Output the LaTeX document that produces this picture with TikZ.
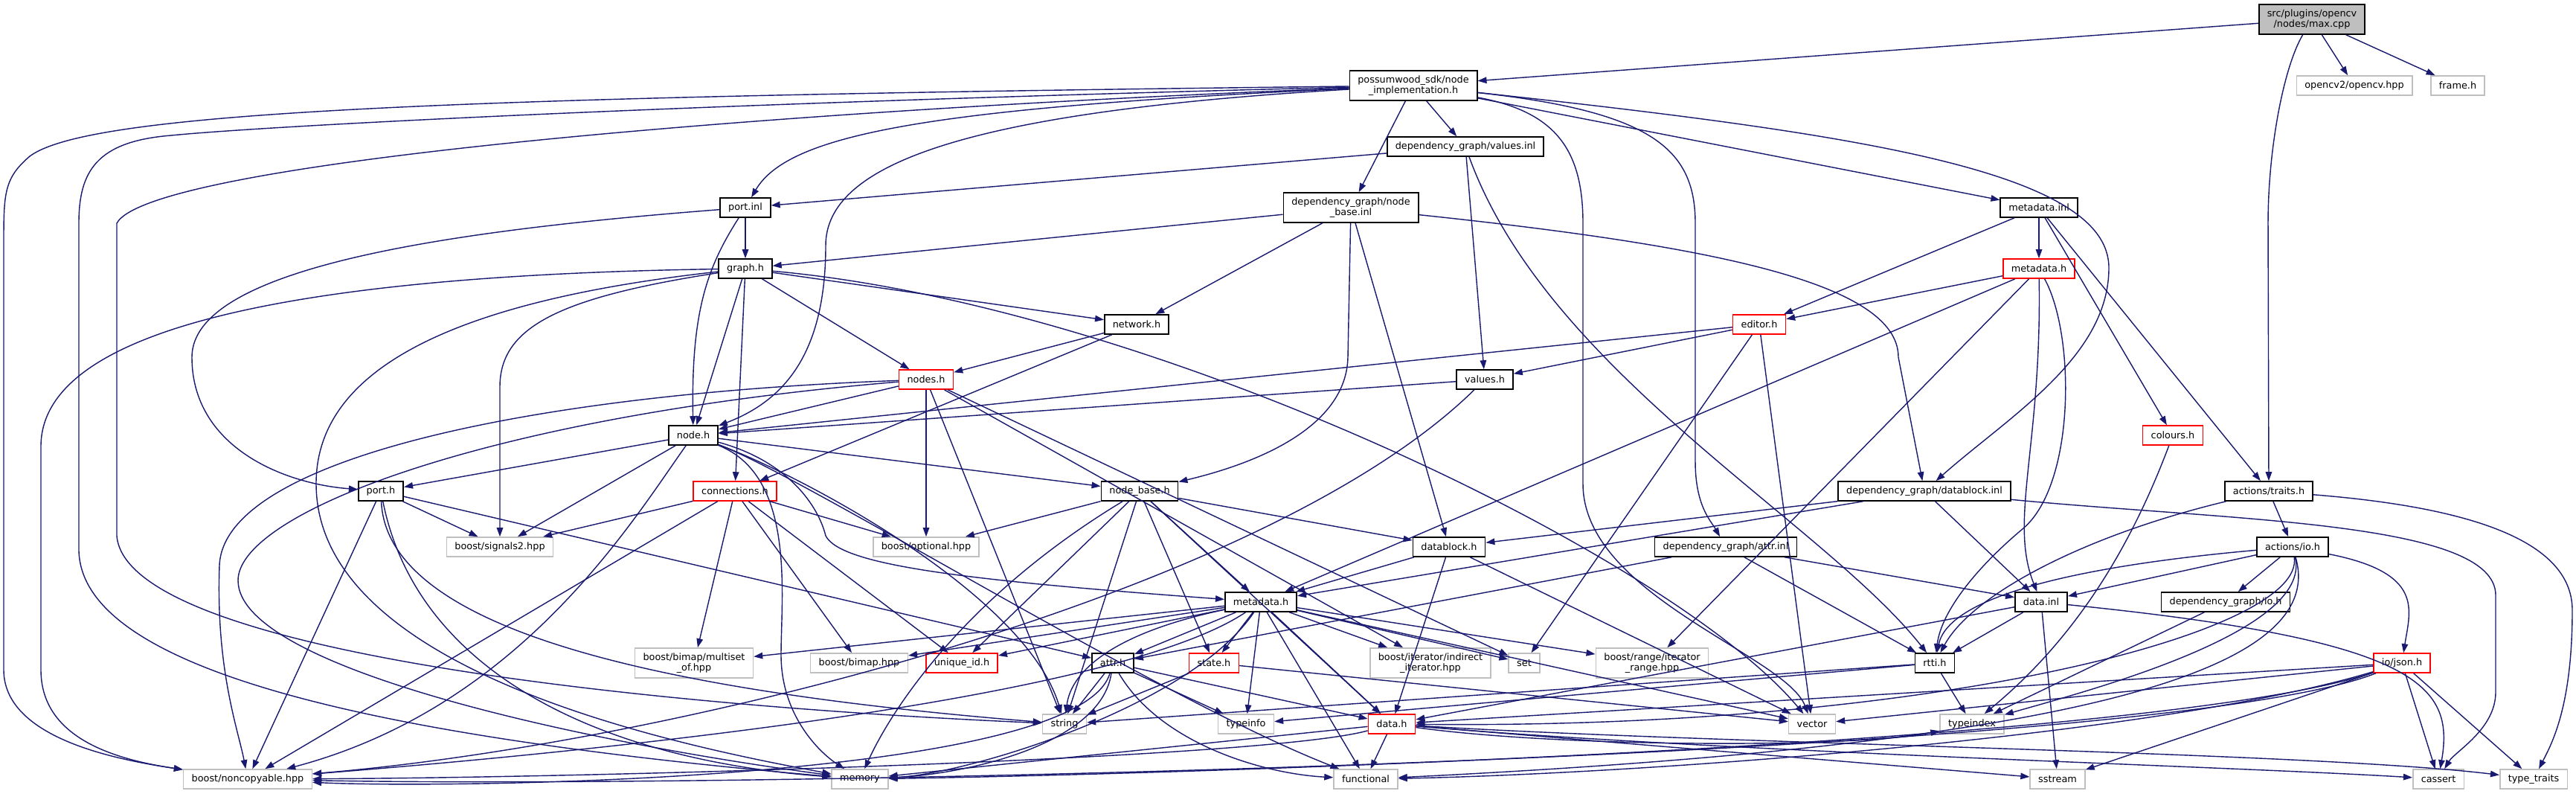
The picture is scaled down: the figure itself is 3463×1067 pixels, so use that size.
\documentclass[tikz,border=0pt]{standalone}
\usepackage{fontspec}
\setmainfont{DejaVu Sans}
\usetikzlibrary{arrows.meta}
\definecolor{edgeblue}{HTML}{191970}
\definecolor{boxgray}{HTML}{BFBFBF}
\definecolor{boxred}{HTML}{FF0000}

\begin{document}
\begin{tikzpicture}[x=0.01cm, y=-0.01cm,
    box/.style={draw, rectangle, align=center, fill=white, inner xsep=0.11cm, inner ysep=0.06cm,
        minimum height=0.26cm, line width=0.45pt, font=\fontsize{3.65pt}{4.1pt}\selectfont},
    doc/.style={box, draw=black},
    trunc/.style={box, draw=boxred},
    ext/.style={box, draw=boxgray},
    root/.style={box, draw=black, fill=boxgray},
    two/.style={minimum height=0.40cm},
    dep/.style={-{Triangle[length=0.12cm, width=0.085cm]}, draw=edgeblue, line width=0.4pt}]
            \fill[white] (0,0) rectangle (3463,1067);
            \useasboundingbox (0,0) rectangle (3463,1067);

            % Files of the project
            \node[root, two] (maxcpp) at (3108,26) {src/plugins/opencv\\/nodes/max.cpp};
            \node[ext] (opencv) at (3165,115) {opencv2/opencv.hpp};
            \node[ext] (frame) at (3304,115) {frame.h};
            \node[doc, two] (nimpl) at (1900,115) {possumwood\_sdk/node\\\_implementation.h};
            \node[doc] (valinl) at (1970,197) {dependency\_graph/values.inl};
            \node[doc, two] (nbinl) at (1816,279) {dependency\_graph/node\\\_base.inl};
            \node[doc] (portinl) at (1002,279) {port.inl};
            \node[doc] (mdinl) at (2741,279) {metadata.inl};
            \node[doc] (graph) at (1002,361) {graph.h};
            \node[trunc] (mdh) at (2741,361) {metadata.h};
            \node[trunc] (editor) at (2365,436) {editor.h};
            \node[doc] (network) at (1528,436) {network.h};
            \node[trunc] (nodes) at (1245,510) {nodes.h};
            \node[doc] (valh) at (1996,510) {values.h};
            \node[trunc] (colours) at (2921,585) {colours.h};
            \node[doc] (nodeh) at (932,585) {node.h};
            \node[doc] (porth) at (512,660) {port.h};
            \node[trunc] (conn) at (988,660) {connections.h};
            \node[doc] (nbh) at (1532,660) {node\_base.h};
            \node[doc] (dbinl) at (2587,660) {dependency\_graph/datablock.inl};
            \node[doc] (traits) at (3050,660) {actions/traits.h};
            \node[ext] (sig2) at (672,735) {boost/signals2.hpp};
            \node[ext] (opt) at (1245,735) {boost/optional.hpp};
            \node[doc] (dbh) at (1948,735) {datablock.h};
            \node[doc] (attrinl) at (2320,735) {dependency\_graph/attr.inl};
            \node[doc] (ioh) at (3082,735) {actions/io.h};
            \node[doc] (md) at (1695,809) {metadata.h};
            \node[doc] (datainl) at (2744,809) {data.inl};
            \node[doc] (dgio) at (2992,809) {dependency\_graph/io.h};
            \node[ext, two] (multiset) at (933,891) {boost/bimap/multiset\\\_of.hpp};
            \node[ext] (bimap) at (1155,891) {boost/bimap.hpp};
            \node[trunc] (uid) at (1293,891) {unique\_id.h};
            \node[doc] (attrh) at (1496,891) {attr.h};
            \node[trunc] (state) at (1632,891) {state.h};
            \node[ext, two] (indir) at (1923,891) {boost/iterator/indirect\\\_iterator.hpp};
            \node[ext] (set) at (2049,891) {set};
            \node[ext, two] (range) at (2221,891) {boost/range/iterator\\\_range.hpp};
            \node[doc] (rtti) at (2601,891) {rtti.h};
            \node[trunc] (json) at (3229,891) {io/json.h};
            \node[ext] (str) at (1431,973) {string};
            \node[ext] (tinfo) at (1675,973) {typeinfo};
            \node[trunc] (datah) at (1871,973) {data.h};
            \node[ext] (vec) at (2436,973) {vector};
            \node[ext] (tindex) at (2651,973) {typeindex};
            \node[ext] (noncp) at (333,1047) {boost/noncopyable.hpp};
            \node[ext] (mem) at (1156,1047) {memory};
            \node[ext] (func) at (1836,1047) {functional};
            \node[ext] (sstr) at (2766,1047) {sstream};
            \node[ext] (cassert) at (3278,1047) {cassert};
            \node[ext] (ttraits) at (3406,1047) {type\_traits};

            % max.cpp
            \draw[dep] (maxcpp) -- (nimpl);
            \draw[dep] (maxcpp) -- (opencv);
            \draw[dep] (maxcpp) -- (frame);
            \draw[dep] (maxcpp) .. controls (3070,90) and (3049,200) .. (3049,300) -- (traits);

            % node_implementation.h
            \draw[dep] (nimpl) .. controls (600,130) and (120,150) .. (40,210) .. controls (5,240) and (5,260) .. (5,330) -- (5,900) .. controls (5,990) and (150,1020) .. (noncp);
            \draw[dep] (nimpl) .. controls (900,140) and (350,170) .. (230,182) .. controls (130,190) and (106,230) .. (106,300) -- (106,740) .. controls (110,900) and (500,990) .. (mem);
            \draw[dep] (nimpl) .. controls (1000,150) and (200,220) .. (157,300) -- (157,720) .. controls (170,880) and (900,950) .. (str);
            \draw[dep] (nimpl) .. controls (1250,145) and (1060,180) .. (portinl);
            \draw[dep] (nimpl) .. controls (1300,150) and (1110,220) .. (1110,330) .. controls (1110,480) and (1050,540) .. (nodeh);
            \draw[dep] (nimpl) -- (valinl);
            \draw[dep] (nimpl) -- (nbinl);
            \draw[dep] (nimpl) -- (mdinl);
            \draw[dep] (nimpl) .. controls (2500,180) and (2835,230) .. (2835,360) .. controls (2835,480) and (2700,560) .. (dbinl);
            \draw[dep] (nimpl) .. controls (2220,150) and (2279,200) .. (2279,300) -- (2279,620) .. controls (2279,680) and (2300,700) .. (attrinl);
            \draw[dep] (nimpl) .. controls (2090,150) and (2128,200) .. (2128,300) -- (2128,650) .. controls (2128,800) and (2400,880) .. (vec);

            % values.inl
            \draw[dep] (valinl) -- (portinl);
            \draw[dep] (valinl) -- (valh);
            \draw[dep] (valinl) .. controls (2080,500) and (2450,700) .. (rtti);

            % port.inl
            \draw[dep] (portinl) -- (graph);
            \draw[dep] (portinl) .. controls (600,310) and (258,360) .. (258,480) .. controls (258,600) and (380,650) .. (porth);
            \draw[dep] (portinl) .. controls (950,360) and (929,420) .. (nodeh);

            % node_base.inl
            \draw[dep] (nbinl) -- (graph);
            \draw[dep] (nbinl) -- (network);
            \draw[dep] (nbinl) -- (1812,480) .. controls (1810,570) and (1700,620) .. (nbh);
            \draw[dep] (nbinl) -- (dbh);
            \draw[dep] (nbinl) .. controls (2300,330) and (2552,380) .. (2552,480) -- (dbinl);

            % metadata.inl
            \draw[dep] (mdinl) -- (editor);
            \draw[dep] (mdinl) -- (mdh);
            \draw[dep] (mdinl) -- (colours);
            \draw[dep] (mdinl) -- (traits);

            % graph.h
            \draw[dep] (graph) .. controls (400,370) and (55,440) .. (55,600) -- (55,900) .. controls (55,990) and (150,1020) .. (noncp);
            \draw[dep] (graph) .. controls (650,400) and (425,480) .. (425,650) .. controls (425,900) and (900,1000) .. (mem);
            \draw[dep] (graph) .. controls (750,400) and (672,440) .. (672,520) -- (sig2);
            \draw[dep] (graph) -- (nodeh);
            \draw[dep] (graph) -- (conn);
            \draw[dep] (graph) -- (nodes);
            \draw[dep] (graph) -- (network);
            \draw[dep] (graph) .. controls (1550,410) and (2250,750) .. (vec);

            % metadata.h (sdk)
            \draw[dep] (mdh) -- (editor);
            \draw[dep] (mdh) -- (md);
            \draw[dep] (mdh) .. controls (2745,600) and (2700,700) .. (datainl);
            \draw[dep] (mdh) .. controls (2790,450) and (2790,650) .. (2720,710) .. controls (2660,760) and (2610,820) .. (rtti);
            \draw[dep] (mdh) -- (range);

            % editor.h
            \draw[dep] (editor) -- (valh);
            \draw[dep] (editor) -- (nodeh);
            \draw[dep] (editor) -- (set);
            \draw[dep] (editor) -- (vec);

            % network.h
            \draw[dep] (network) -- (nodes);
            \draw[dep] (network) -- (conn);

            % nodes.h
            \draw[dep] (nodes) -- (nodeh);
            \draw[dep] (nodes) .. controls (700,530) and (300,620) .. (295,760) .. controls (290,900) and (320,980) .. (noncp);
            \draw[dep] (nodes) .. controls (650,560) and (320,690) .. (320,780) .. controls (320,900) and (800,1000) .. (mem);
            \draw[dep] (nodes) -- (opt);
            \draw[dep] (nodes) -- (str);
            \draw[dep] (nodes) -- (set);
            \draw[dep] (nodes) -- (indir);

            % values.h
            \draw[dep] (valh) -- (nodeh);
            \draw[dep] (valh) .. controls (1700,800) and (900,1000) .. (noncp);

            % node.h
            \draw[dep] (nodeh) -- (porth);
            \draw[dep] (nodeh) -- (nbh);
            \draw[dep] (nodeh) -- (sig2);
            \draw[dep] (nodeh) .. controls (850,700) and (700,950) .. (noncp);
            \draw[dep] (nodeh) .. controls (1070,640) and (1050,800) .. (1050,880) .. controls (1050,960) and (1100,1010) .. (mem);
            \draw[dep] (nodeh) .. controls (1080,640) and (1560,940) .. (func);
            \draw[dep] (nodeh) .. controls (1060,620) and (1100,680) .. (1110,720) .. controls (1130,760) and (1300,780) .. (md);
            \draw[dep] (nodeh) .. controls (1080,640) and (1380,800) .. (str);

            % port.h
            \draw[dep] (porth) -- (noncp);
            \draw[dep] (porth) .. controls (520,850) and (900,930) .. (str);
            \draw[dep] (porth) -- (attrh);
            \draw[dep] (porth) .. controls (560,900) and (800,1020) .. (mem);
            \draw[dep] (porth) -- (sig2);

            % connections.h
            \draw[dep] (conn) -- (sig2);
            \draw[dep] (conn) -- (noncp);
            \draw[dep] (conn) -- (opt);
            \draw[dep] (conn) -- (multiset);
            \draw[dep] (conn) -- (bimap);
            \draw[dep] (conn) -- (uid);

            % node_base.h
            \draw[dep] (nbh) -- (opt);
            \draw[dep] (nbh) .. controls (1300,800) and (1200,950) .. (mem);
            \draw[dep] (nbh) -- (uid);
            \draw[dep] (nbh) -- (str);
            \draw[dep] (nbh) -- (state);
            \draw[dep] (nbh) -- (md);
            \draw[dep] (nbh) -- (dbh);
            \draw[dep] (nbh) -- (datah);

            % datablock.inl
            \draw[dep] (dbinl) -- (dbh);
            \draw[dep] (dbinl) -- (datainl);
            \draw[dep] (dbinl) -- (md);
            \draw[dep] (dbinl) .. controls (3000,700) and (3355,700) .. (3355,800) -- (3355,930) .. controls (3355,980) and (3300,1010) .. (cassert);

            % actions/traits.h
            \draw[dep] (traits) -- (ioh);
            \draw[dep] (traits) .. controls (2800,720) and (2650,800) .. (rtti);
            \draw[dep] (traits) .. controls (3300,680) and (3458,720) .. (3458,820) .. controls (3458,950) and (3430,1000) .. (ttraits);

            % datablock.h
            \draw[dep] (dbh) -- (md);
            \draw[dep] (dbh) -- (datah);
            \draw[dep] (dbh) -- (vec);

            % attr.inl
            \draw[dep] (attrinl) -- (attrh);
            \draw[dep] (attrinl) -- (datainl);
            \draw[dep] (attrinl) -- (rtti);

            % actions/io.h
            \draw[dep] (ioh) .. controls (2800,760) and (2620,800) .. (rtti);
            \draw[dep] (ioh) -- (datainl);
            \draw[dep] (ioh) -- (dgio);
            \draw[dep] (ioh) .. controls (3260,770) and (3240,820) .. (json);
            \draw[dep] (ioh) .. controls (3100,850) and (2600,980) .. (datah);
            \draw[dep] (ioh) .. controls (3130,900) and (2800,1000) .. (func);
            \draw[dep] (ioh) .. controls (3110,850) and (2800,930) .. (tindex);

            % metadata.h (dependency_graph)
            \draw[dep] (md) -- (multiset);
            \draw[dep] (md) -- (bimap);
            \draw[dep] (md) -- (uid);
            \draw[dep] (md) -- (attrh);
            \draw[dep] (md) -- (state);
            \draw[dep] (md) .. controls (1500,850) and (1440,900) .. (str);
            \draw[dep] (md) -- (indir);
            \draw[dep] (md) -- (set);
            \draw[dep] (md) -- (range);
            \draw[dep] (md) -- (vec);
            \draw[dep] (md) -- (func);
            \draw[dep] (md) .. controls (1600,950) and (1300,1040) .. (mem);
            \draw[dep] (md) -- (datah);
            \draw[dep] (md) -- (tinfo);
            \draw[dep] (md) .. controls (1500,940) and (800,1010) .. (noncp);

            % data.inl
            \draw[dep] (datainl) -- (datah);
            \draw[dep] (datainl) -- (rtti);
            \draw[dep] (datainl) -- (sstr);
            \draw[dep] (datainl) .. controls (3250,860) and (3300,920) .. (cassert);

            % attr.h
            \draw[dep] (attrh) -- (str);
            \draw[dep] (attrh) -- (tinfo);
            \draw[dep] (attrh) -- (datah);
            \draw[dep] (attrh) .. controls (1480,1000) and (1300,1040) .. (mem);
            \draw[dep] (attrh) .. controls (1560,1000) and (1700,1040) .. (func);
            \draw[dep] (attrh) .. controls (1450,1050) and (600,1060) .. (noncp);

            % state.h
            \draw[dep] (state) -- (str);
            \draw[dep] (state) -- (vec);

            % rtti.h
            \draw[dep] (rtti) -- (str);
            \draw[dep] (rtti) -- (tinfo);
            \draw[dep] (rtti) -- (tindex);

            % io/json.h
            \draw[dep] (json) -- (datah);
            \draw[dep] (json) -- (vec);
            \draw[dep] (json) .. controls (2900,1000) and (1600,1040) .. (mem);
            \draw[dep] (json) .. controls (2900,990) and (2200,1040) .. (func);
            \draw[dep] (json) .. controls (2900,1020) and (1000,1060) .. (noncp);
            \draw[dep] (json) -- (sstr);
            \draw[dep] (json) -- (cassert);
            \draw[dep] (json) -- (ttraits);

            % data.h
            \draw[dep] (datah) .. controls (1700,1020) and (800,1045) .. (noncp);
            \draw[dep] (datah) -- (mem);
            \draw[dep] (datah) -- (func);
            \draw[dep] (datah) .. controls (2100,1005) and (2500,1005) .. (tindex);
            \draw[dep] (datah) -- (sstr);
            \draw[dep] (datah) .. controls (2300,1010) and (3000,1030) .. (cassert);
            \draw[dep] (datah) .. controls (2300,1000) and (3100,1010) .. (ttraits);

            % the rest
            \draw[dep] (dgio) -- (tindex);
            \draw[dep] (colours) .. controls (2870,720) and (2800,850) .. (tindex);
        \end{tikzpicture}
\end{document}
